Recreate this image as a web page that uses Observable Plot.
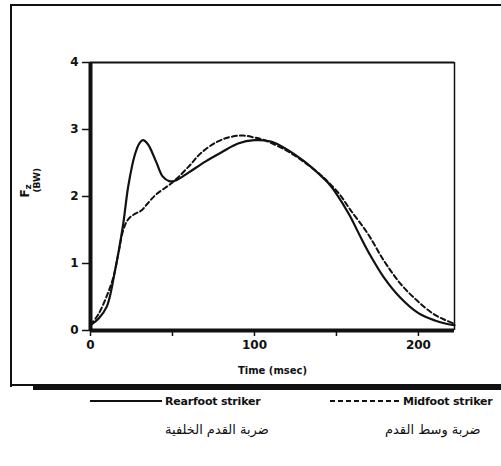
<!DOCTYPE html>
<html>
<head>
<meta charset="utf-8">
<script src="https://cdn.jsdelivr.net/npm/d3@7"></script>
<script src="https://cdn.jsdelivr.net/npm/@observablehq/plot@0.6"></script>
<style>
  html, body { margin: 0; padding: 0; background: #fff; }
  #wrap { position: relative; width: 501px; height: 466px; overflow: hidden; font-family: "DejaVu Sans", sans-serif; }
  #chart { position: absolute; left: 0; top: 0; }
  .bl { position: absolute; left: 10px; top: 4px; width: 495px; height: 381px; border-left: 2px solid #111; border-top: 2px solid #111; }
  .bb { position: absolute; left: 33px; top: 384px; width: 470px; height: 6px; background: #111; }
  .bs { position: absolute; left: 10px; top: 384px; width: 24px; height: 2px; background: #111; }
  .leg { position: absolute; top: 395px; font-size: 11px; font-weight: bold; color: #111; letter-spacing: -0.2px; white-space: nowrap; }
  .legline { display: inline-block; vertical-align: middle; width: 72px; height: 2px; background: #111; margin-right: 3px; position: relative; top: -1px; }
  .legdash { background: repeating-linear-gradient(to right, #111 0 5px, transparent 5px 8px); width: 70px; }
  .ar { position: absolute; top: 422px; font-family: "DejaVu Sans", "Noto Sans", sans-serif; font-size: 13px; color: #111; direction: rtl; white-space: nowrap; }
</style>
</head>
<body>
<div id="wrap">
  <div class="bl"></div>
  <div class="bs"></div>
  <div class="bb"></div>
  <div id="chart"></div>
  <div class="leg" style="left:90px;"><span class="legline"></span>Rearfoot striker</div>
  <div class="leg" style="left:330px;"><span class="legline legdash"></span>Midfoot striker</div>
  <div class="ar" style="left:165px;">ضربة القدم الخلفية</div>
  <div class="ar" style="left:385px;">ضربة وسط القدم</div>
</div>
<script>
const rearT = [0, 5, 10, 15, 20, 23, 27, 30, 32, 35, 40, 44, 48, 52, 60, 70, 80, 90, 100, 110, 120, 130, 140, 145, 150, 158, 165, 170, 179, 189, 200, 210, 217, 222];
const rearF = [0.08, 0.18, 0.36, 0.9, 1.6, 2.15, 2.62, 2.8, 2.84, 2.78, 2.52, 2.3, 2.23, 2.24, 2.36, 2.52, 2.66, 2.79, 2.84, 2.82, 2.7, 2.53, 2.32, 2.2, 2.04, 1.72, 1.38, 1.15, 0.79, 0.49, 0.26, 0.15, 0.1, 0.08];
const midT = [0, 5, 10, 14, 17, 20, 23, 27, 31, 35, 40, 50, 60, 67, 76, 84, 93, 100, 105, 110, 120, 130, 140, 146, 152, 158.5, 169, 179, 189, 199, 209, 216, 222];
const midF = [0.08, 0.25, 0.52, 0.8, 1.15, 1.5, 1.66, 1.74, 1.79, 1.9, 2.03, 2.21, 2.45, 2.64, 2.8, 2.88, 2.91, 2.88, 2.85, 2.8, 2.68, 2.52, 2.33, 2.19, 2.03, 1.8, 1.45, 1.04, 0.7, 0.45, 0.25, 0.16, 0.1];
const xTicks = [0, 50, 100, 150, 200];
const xTickLabels = ["0", "", "100", "", "200"];
const yTicks = [0, 1, 2, 3, 4];

const rear = rearT.map((t, i) => ({t, f: rearF[i]}));
const mid = midT.map((t, i) => ({t, f: midF[i]}));

const chart = Plot.plot({
  width: 501,
  height: 395,
  marginLeft: 90,
  marginRight: 47,
  marginTop: 62,
  marginBottom: 65,
  style: {fontFamily: "DejaVu Sans, sans-serif", fontWeight: "bold", fontSize: "11px", color: "#111", background: "transparent"},
  x: {domain: [0, 222]},
  y: {domain: [0, 4]},
  marks: [
    Plot.ruleY([4], {stroke: "#111", strokeWidth: 2}),
    Plot.ruleX([222], {stroke: "#111", strokeWidth: 1.5}),
    Plot.line(rear, {x: "t", y: "f", curve: "catmull-rom", stroke: "#111", strokeWidth: 2.2}),
    Plot.line(mid, {x: "t", y: "f", curve: "catmull-rom", stroke: "#111", strokeWidth: 2, strokeDasharray: "5,3"}),
    Plot.ruleX([0], {stroke: "#111", strokeWidth: 4}),
    Plot.ruleY([0], {stroke: "#111", strokeWidth: 4}),
    Plot.axisY({ticks: yTicks, tickSize: 8, tickPadding: 4, tickFormat: d => String(d), label: null, stroke: "#111", strokeWidth: 1.5, fontSize: 12}),
    Plot.axisX({ticks: xTicks, tickSize: 6, tickPadding: 4, tickFormat: d => xTickLabels[xTicks.indexOf(d)], label: null, stroke: "#111", strokeWidth: 1.5, fontSize: 12}),
    Plot.text(["Time (msec)"], {frameAnchor: "bottom", dy: 43, fontSize: 10, fontWeight: "bold"}),
    Plot.text(["F"], {frameAnchor: "left", dx: -65, dy: 1, rotate: -90, fontSize: 12, fontWeight: "bold"}),
    Plot.text(["z"], {frameAnchor: "left", dx: -62, dy: -7, rotate: -90, fontSize: 9, fontWeight: "bold"}),
    Plot.text(["(BW)"], {frameAnchor: "left", dx: -53, dy: -4, rotate: -90, fontSize: 9, fontWeight: "bold"})
  ]
});
document.getElementById("chart").appendChild(chart);
</script>
</body>
</html>
